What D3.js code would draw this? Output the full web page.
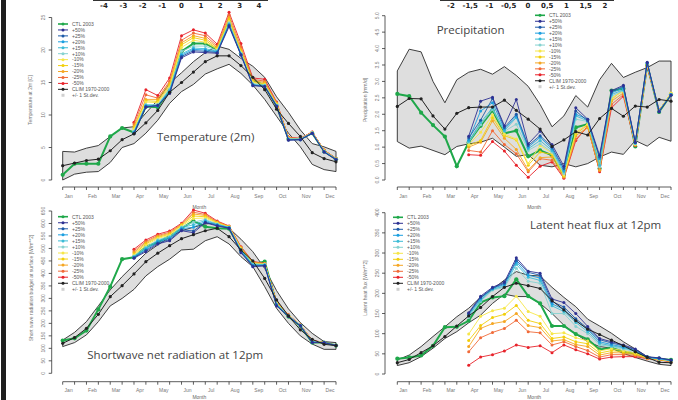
<!DOCTYPE html>
<html><head><meta charset="utf-8">
<script src="https://cdn.jsdelivr.net/npm/d3@7"></script>
<style>body{margin:0;background:#fff}svg{display:block}</style>
</head><body><svg id="c" width="678" height="400"></svg>
<script>
// ---------- DATA ----------
const months = ["Jan","Feb","Mar","Apr","May","Jun","Jul","Aug","Sep","Oct","Nov","Dec"];
const scenarioLabels = ["+50%","+25%","+20%","+15%","+10%","-10%","-15%","-20%","-25%","-50%"];
const scenarioColors = ["#2e3192","#1d5aa8","#1c9fe0","#3cbcd6","#86d2d0","#f6e64a","#f2cf0a","#f5a623","#f16a38","#e8222a"];
const ctlColor = "#1fa84a";
const climColor = "#222222";
const legendLabels = ["CTL 2003"].concat(scenarioLabels, ["CLIM 1970-2000", "+/- 1 St.dev."]);
const scenarioStart = 6; // scenarios begin at first half of April
const leftBarTicks = ["-4","-3","-2","-1","0","1","2","3","4"];
const rightBarTicks = ["-2","-1,5","-1","-0,5","0","0,5","1","1,5","2"];

// Temperature (2m) [C]
const tempTicks = [0,5,10,15,20,25];
const tempClim = [2.2,2.6,3.0,3.2,4.5,6.2,7.1,8.8,10.7,13.5,15.0,16.6,18.2,19.1,19.1,17.6,15.8,13.9,10.9,8.7,6.7,4.2,3.3,2.8];
const tempHi   = [4.4,4.3,4.9,5.3,6.7,8.0,8.2,10.3,12.3,14.9,16.5,18.2,19.6,20.6,20.1,18.7,17.5,15.8,12.8,10.4,7.7,5.6,5.1,4.4];
const tempLo   = [0.0,0.9,1.2,1.3,2.7,5.0,5.6,7.2,9.2,11.8,13.6,14.7,16.3,17.1,17.8,16.4,14.6,12.4,9.8,7.2,5.1,2.4,1.6,1.3];
const tempCtl  = [0.8,2.5,2.5,2.5,6.7,8.0,7.3,11.3,11.2,13.8,19.8,21.0,21.0,20.1,24.4,19.5,15.4,14.5,11.4,6.3,6.3,7.2,4.4,3.2];
const tempScenarios = [
  [7.1,11.2,11.5,13.3,18.8,19.7,19.6,19.5,23.6,19.2,14.5,14.4,11.3,6.1,6.2,7.2,4.3,3.1],
  [7.2,11.3,11.4,13.5,19.0,19.9,19.8,19.6,23.8,19.3,14.6,14.4,11.4,6.2,6.2,7.2,4.3,3.2],
  [7.3,11.4,11.4,13.6,19.2,20.1,20.0,19.7,23.9,19.3,14.6,14.4,11.4,6.2,6.2,7.2,4.4,3.2],
  [7.4,11.5,11.5,13.8,19.4,20.3,20.2,19.8,24.0,19.4,14.7,14.5,11.5,6.3,6.3,7.2,4.4,3.2],
  [7.5,11.6,11.6,14.0,19.8,20.6,20.6,19.9,24.2,19.5,14.8,14.6,11.5,6.3,6.3,7.3,4.4,3.2],
  [7.8,12.0,11.9,14.3,20.4,21.5,21.2,20.1,24.4,19.6,15.0,14.7,11.6,6.4,6.3,7.3,4.5,3.2],
  [8.0,12.2,12.1,14.6,20.8,21.9,21.5,20.2,24.7,19.8,15.1,14.8,11.7,6.4,6.3,7.3,4.5,3.2],
  [8.3,12.4,12.4,14.9,21.1,22.2,21.8,20.4,25.0,20.1,15.3,15.0,11.8,6.5,6.3,7.3,4.5,3.3],
  [8.6,13.1,12.6,15.2,21.5,22.6,22.2,20.6,25.4,20.5,15.5,15.2,11.9,6.5,6.4,7.4,4.6,3.3],
  [8.9,13.9,13.0,15.7,22.2,23.1,22.6,20.9,25.8,21.0,15.7,15.5,12.0,6.6,6.4,7.4,4.6,3.3]
];

// Precipitation [mm/d]
const precTicks = [0,0.5,1,1.5,2,2.5,3,3.5,4,4.5,5];
const precClim = [2.24,2.48,2.47,1.95,1.55,2.03,2.2,2.22,2.22,2.43,2.12,1.85,1.55,1.02,1.22,1.47,1.37,1.87,2.18,1.94,2.25,2.22,2.45,2.4];
const precHi   = [3.32,3.98,3.9,3.0,2.35,3.05,3.28,3.37,3.22,3.45,3.18,2.85,2.3,1.62,1.95,2.57,2.22,3.05,3.55,3.12,3.28,3.42,3.62,3.62];
const precLo   = [1.17,0.97,1.03,0.9,0.77,1.02,1.1,1.15,1.27,1.0,0.72,0.77,0.45,0.4,0.5,0.4,0.5,0.7,0.85,0.78,1.2,1.03,1.3,1.18];
const precCtl  = [2.62,2.55,2.05,1.67,1.32,0.42,1.15,1.65,2.12,1.42,1.5,0.72,0.9,0.75,0.15,1.6,1.7,0.35,2.72,2.78,1.02,3.5,2.07,2.6];
const precScenarios = [
  [1.33,2.4,2.52,1.65,2.45,1.1,1.48,1.08,0.42,2.2,1.85,0.75,2.72,2.88,1.15,3.58,2.08,2.58],
  [1.28,1.82,2.48,1.6,2.0,1.05,1.35,1.0,0.35,2.1,1.8,0.7,2.68,2.85,1.14,3.57,2.09,2.59],
  [1.22,2.1,2.35,1.55,1.95,1.0,1.3,0.95,0.3,2.0,1.85,0.65,2.65,2.8,1.13,3.56,2.09,2.6],
  [1.18,1.75,2.2,1.5,1.9,0.95,1.2,0.9,0.25,1.95,1.8,0.45,2.6,2.75,1.12,3.55,2.1,2.6],
  [1.15,1.68,2.15,1.48,1.7,0.9,1.1,0.85,0.2,1.85,1.78,0.4,2.55,2.72,1.1,3.54,2.1,2.61],
  [1.08,1.45,1.98,1.4,1.25,0.5,1.05,0.82,0.15,1.45,1.7,0.6,2.5,2.7,1.09,3.52,2.11,2.65],
  [1.05,1.2,1.9,1.35,1.22,0.45,0.85,0.78,0.12,1.4,1.68,0.5,2.45,2.75,1.08,3.5,2.11,2.64],
  [1.0,1.15,1.8,1.27,0.93,0.3,0.68,0.7,0.1,1.35,1.6,0.3,2.4,2.65,1.07,3.48,2.12,2.63],
  [0.9,0.85,1.5,1.08,0.8,0.25,0.65,0.6,0.08,1.25,1.6,0.3,2.3,2.6,1.06,3.46,2.12,2.62],
  [0.77,0.75,1.17,0.88,0.45,0.08,0.42,0.55,0.05,1.2,1.65,0.25,2.2,2.55,1.05,3.45,2.12,2.62]
];

// Shortwave net radiation at 12pm [W/m**2]
const swTicks = [0,50,100,150,200,250,300,350,400,450,500,550,600,650];
const swClim = [120,143,180,236,307,351,398,447,481,511,539,555,571,581,547,494,450,380,294,230,174,136,116,111];
const swHi   = [133,164,207,270,334,387,434,481,514,545,571,585,598,603,581,537,487,420,331,258,203,160,127,123];
const swLo   = [107,123,154,207,270,300,336,390,427,457,494,497,531,547,518,467,427,347,260,200,150,117,96,96];
const swCtl  = [131,140,171,256,347,457,465,507,525,550,581,610,587,581,579,494,438,447,278,227,190,123,123,111];
const swScenarios = [
  [461,487,518,531,571,563,603,590,581,483,427,430,270,227,190,123,123,111],
  [463,492,522,535,575,570,605,592,582,486,430,432,272,228,190,124,123,111],
  [465,496,527,540,579,585,608,594,583,489,432,433,274,229,191,125,123,111],
  [467,500,531,544,583,595,612,596,584,492,435,435,276,230,191,126,123,111],
  [470,505,535,548,586,605,616,598,585,495,438,436,278,230,192,127,123,111],
  [474,512,540,553,590,620,622,601,586,498,440,437,280,231,192,128,123,111],
  [478,518,544,557,593,630,627,603,587,500,442,438,282,232,192,129,123,111],
  [484,523,548,561,596,638,632,605,588,503,444,439,284,232,193,130,123,111],
  [490,528,552,565,598,645,636,607,589,505,446,440,285,233,193,131,123,111],
  [497,534,557,570,601,654,641,610,590,507,448,440,287,234,193,133,123,111]
];

// Latent heat flux at 12pm [W/m**2]
const lhTicks = [0,50,100,150,200,250,300,350,400];
const lhClim = [28,36,53,70,93,119,144,165,192,215,225,219,212,182,159,132,111,98,84,70,55,41,29,28];
const lhHi   = [35,47,68,93,117,142,163,190,210,233,254,245,243,215,190,167,136,119,101,80,62,43,37,35];
const lhLo   = [21,28,43,64,88,105,127,146,175,198,192,192,175,150,121,99,80,68,64,51,41,32,24,21];
const lhCtl  = [38,41,46,70,116,117,132,177,190,193,235,193,175,119,119,99,86,61,65,55,51,41,38,35];
const lhScenarios = [
  [152,193,215,228,288,255,250,186,177,150,118,88,80,72,62,43,40,35],
  [150,190,213,225,282,252,245,180,166,137,113,85,77,70,60,42,39,34],
  [148,187,212,222,278,245,238,174,160,133,110,80,73,67,58,42,38,34],
  [145,183,210,218,272,240,232,169,155,128,105,76,70,65,57,41,38,33],
  [140,180,208,215,262,230,225,150,150,118,100,72,68,62,56,41,37,33],
  [99,143,157,163,193,155,143,100,102,90,82,57,63,58,52,40,37,32],
  [83,120,140,148,170,133,125,88,92,80,75,52,58,55,50,40,36,32],
  [68,113,125,130,150,120,115,82,85,73,68,47,53,52,48,39,36,31],
  [55,90,103,113,133,105,102,72,80,68,58,42,48,48,46,39,35,31],
  [22,42,48,57,72,66,70,53,72,60,50,37,42,43,43,38,35,30]
];

// ---------- DRAWING ----------
const svg = d3.select("#c");
svg.append("rect").attr("width",678).attr("height",400).attr("fill","#fff");
svg.append("rect").attr("x",1).attr("y",0).attr("width",5).attr("height",400).attr("fill","#1e1e1e");

const SMALL = "Liberation Sans, Arial, sans-serif";
const TITLE = "'Open Sans', sans-serif";

function colorbar(labels, x0, x1) {
  const s = d3.scalePoint().domain(labels).range([x0 + 11, x1 - 9]);
  const g = svg.append("g");
  g.append("line").attr("x1", x0).attr("x2", x1).attr("y1", 0.5).attr("y2", 0.5)
    .attr("stroke", "#333").attr("stroke-width", 1.2);
  labels.forEach(l => {
    g.append("text").attr("x", s(l)).attr("y", 8).attr("text-anchor","middle")
      .attr("font-family", "DejaVu Sans, sans-serif").attr("font-weight","bold")
      .attr("font-size", 7).attr("fill", "#222").text(l);
  });
}
colorbar(leftBarTicks, 93, 268);
colorbar(rightBarTicks, 440, 614);

function panel(o) {
  const g = svg.append("g");
  const x = d3.scaleLinear().domain([0, 23]).range(o.xr);
  const y = d3.scaleLinear().domain([o.ticks[0], o.ticks[o.ticks.length-1]]).range(o.yr);

  // band
  const area = d3.area().x((d,i) => x(i)).y0((d,i) => y(o.lo[i])).y1(d => y(d));
  g.append("path").datum(o.hi).attr("d", area).attr("fill", "#dedede")
    .attr("stroke", "#2a2a2a").attr("stroke-width", 0.9);

  const line = d3.line().x(d => x(d[0])).y(d => y(d[1]));
  function series(pts, color, w, r) {
    g.append("path").attr("d", line(pts)).attr("fill","none").attr("stroke", color).attr("stroke-width", w);
    g.selectAll(null).data(pts).enter().append("circle")
      .attr("cx", d => x(d[0])).attr("cy", d => y(d[1])).attr("r", r).attr("fill", color);
  }
  series(o.ctl.map((v,i) => [i, v]), ctlColor, 2, 2.1);
  for (let s = o.scen.length - 1; s >= 0; s--) {
    series(o.scen[s].map((v,j) => [j + scenarioStart, v]), scenarioColors[s], 0.9, 1.5);
  }
  series(o.clim.map((v,i) => [i, v]), climColor, 1, 1.6);

  // y axis
  const ax = o.yaxisX;
  g.append("line").attr("x1", ax).attr("x2", ax).attr("y1", y(o.ticks[0])).attr("y2", y(o.ticks[o.ticks.length-1]))
    .attr("stroke", "#333").attr("stroke-width", 0.8);
  o.ticks.forEach(t => {
    g.append("line").attr("x1", ax - 3).attr("x2", ax).attr("y1", y(t)).attr("y2", y(t))
      .attr("stroke", "#333").attr("stroke-width", 0.8);
    g.append("text").attr("transform", `translate(${ax - 6.5},${y(t)}) rotate(-90)`)
      .attr("text-anchor","middle").attr("font-family", SMALL).attr("font-size", 5).attr("fill", "#777")
      .text(o.fmt(t));
  });
  g.append("text").attr("transform", `translate(${o.ylabX},${o.ylabY}) rotate(-90)`)
    .attr("text-anchor","middle").attr("font-family", SMALL).attr("font-size", 5).attr("fill", "#777")
    .text(o.ylab);

  // x axis
  const ay = o.xaxisY;
  g.append("line").attr("x1", x(0)).attr("x2", x(23)).attr("y1", ay).attr("y2", ay)
    .attr("stroke", "#333").attr("stroke-width", 0.8);
  d3.range(24).forEach(i => {
    g.append("line").attr("x1", x(i)).attr("x2", x(i)).attr("y1", ay).attr("y2", ay + 3)
      .attr("stroke", "#333").attr("stroke-width", 0.8);
  });
  months.forEach((m, k) => {
    g.append("text").attr("x", x(2*k + 0.5)).attr("y", ay + 10.5).attr("text-anchor","middle")
      .attr("font-family", SMALL).attr("font-size", 5).attr("fill", "#777").text(m);
  });
  g.append("text").attr("x", (x(0)+x(23))/2).attr("y", Math.min(ay + 22, 398.5)).attr("text-anchor","middle")
    .attr("font-family", SMALL).attr("font-size", 5).attr("fill", "#666").text("Month");

  // legend
  legendLabels.forEach((lab, k) => {
    const ly = o.legY + k * o.legDy;
    let col;
    if (k === 0) col = ctlColor; else if (k <= 10) col = scenarioColors[k-1]; else if (k === 11) col = climColor; else col = null;
    if (col) {
      g.append("line").attr("x1", o.legX).attr("x2", o.legX + 10).attr("y1", ly).attr("y2", ly)
        .attr("stroke", col).attr("stroke-width", k === 0 ? 1.6 : 1);
      g.append("circle").attr("cx", o.legX + 5).attr("cy", ly).attr("r", 1.5).attr("fill", col);
    } else {
      g.append("rect").attr("x", o.legX + 3.5).attr("y", ly - 1.5).attr("width", 3).attr("height", 3).attr("fill", "#d0d0d0");
    }
    g.append("text").attr("x", o.legX + 14).attr("y", ly + 1.8).attr("font-family", SMALL)
      .attr("font-size", 5).attr("fill", "#555").text(lab);
  });

  // title
  g.append("text").attr("x", o.titleX).attr("y", o.titleY).attr("font-family", TITLE)
    .attr("font-size", 11.5).attr("fill", "#444").text(o.title);
}

panel({ xr:[62.7,336], yr:[180,17.5], ticks: tempTicks, fmt: d3.format("d"),
  clim: tempClim, hi: tempHi, lo: tempLo, ctl: tempCtl, scen: tempScenarios,
  yaxisX: 51.7, xaxisY: 187, ylab: "Temperature at 2m [C]", ylabX: 32, ylabY: 100,
  legX: 58, legY: 24, legDy: 5.94, title: "Temperature (2m)", titleX: 157, titleY: 141 });

panel({ xr:[397.3,671], yr:[180,15.7], ticks: precTicks, fmt: d3.format(".1f"),
  clim: precClim, hi: precHi, lo: precLo, ctl: precCtl, scen: precScenarios,
  yaxisX: 385, xaxisY: 187, ylab: "Precipitation [mm/d]", ylabX: 367, ylabY: 100,
  legX: 535, legY: 15.3, legDy: 5.95, title: "Precipitation", titleX: 436.7, titleY: 33.7 });

panel({ xr:[62.7,336], yr:[373.3,211], ticks: swTicks, fmt: d3.format("d"),
  clim: swClim, hi: swHi, lo: swLo, ctl: swCtl, scen: swScenarios,
  yaxisX: 51.7, xaxisY: 381.7, ylab: "Short wave radiation budget at surface [W/m**2]", ylabX: 33, ylabY: 288,
  legX: 58, legY: 216.7, legDy: 6.05, title: "Shortwave net radiation at 12pm", titleX: 87.3, titleY: 359.3 });

panel({ xr:[397.3,671], yr:[374,212.7], ticks: lhTicks, fmt: d3.format("d"),
  clim: lhClim, hi: lhHi, lo: lhLo, ctl: lhCtl, scen: lhScenarios,
  yaxisX: 385, xaxisY: 381.7, ylab: "Latent heat flux [W/m**2]", ylabX: 367, ylabY: 288,
  legX: 393, legY: 217.3, legDy: 6.0, title: "Latent heat flux at 12pm", titleX: 530, titleY: 229.3 });
</script>
</body></html>
